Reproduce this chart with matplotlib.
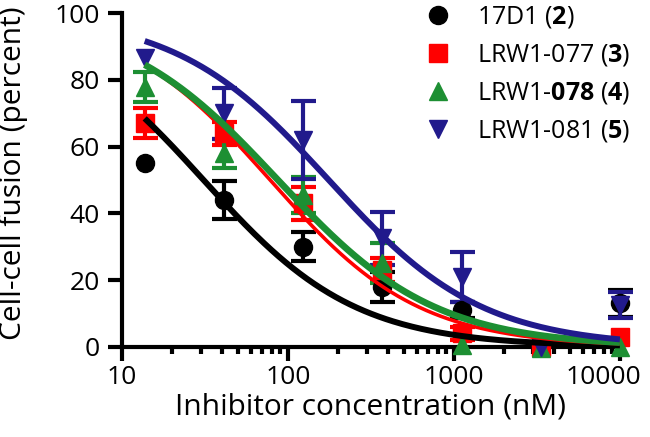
import numpy as np
import matplotlib.pyplot as plt
import matplotlib.transforms as mtransforms
from matplotlib.lines import Line2D

plt.rcParams['font.family'] = ['Open Sans', 'DejaVu Sans']
plt.rcParams['mathtext.fontset'] = 'custom'
plt.rcParams['mathtext.bf'] = 'Open Sans:bold'
plt.rcParams['mathtext.rm'] = 'Open Sans'

nan = np.nan

# 3-fold dilution series (nM)
conc = [13.7, 41.2, 123.5, 370.4, 1111.1, 3333.3, 10000.0]

names = [r"17D1 ($\mathbf{2}$)", r"LRW1-077 ($\mathbf{3}$)",
         r"LRW1-$\mathbf{078}$ ($\mathbf{4}$)", r"LRW1-081 ($\mathbf{5}$)"]
colors = ['#000000', '#ff0000', '#1d8f33', '#211a8c']
markers = ['o', 's', '^', 'v']

# mean fusion (percent) and error (SD); nan = no bar shown
fusion_17d1 = [55, 44, 30, 18, 11, 0, 13]
err_17d1 = [nan, 5.8, 4.3, 4.5, 2.5, nan, 4]
fusion_077 = [67, 64, 43, 23, 4, 0, 3]
err_077 = [4.5, 3.5, 5, 3.5, 2, nan, nan]
fusion_078 = [78, 58, 45.5, 25, 0.5, -0.5, 0]
err_078 = [4.5, 4.3, 5.5, 6, nan, nan, nan]
fusion_081 = [86.5, 70, 62, 32.5, 21, 0, 12.5]
err_081 = [nan, 7.7, 11.7, 8, 7.5, nan, 4]

# fitted dose-response parameters (top, IC50 nM, Hill slope)
fit_top = [100, 100, 100, 100]
fit_ic50 = [31, 78, 87, 176]
fit_hill = [0.95, 0.97, 0.92, 0.94]
fit_lw = [4.3, 2.6, 4.8, 4.3]

means = [fusion_17d1, fusion_077, fusion_078, fusion_081]
errs = [err_17d1, err_077, err_078, err_081]

fig = plt.figure(figsize=(6.5, 4.37), dpi=100)
ax = fig.add_axes([0.1877, 0.2066, 0.766, 0.763])

for i in range(4):
    ax.errorbar(conc, means[i], yerr=errs[i], fmt=markers[i], color=colors[i],
                ms=13, elinewidth=3, capsize=9, capthick=3, clip_on=False, zorder=3)

xs = np.logspace(np.log10(conc[0]), np.log10(conc[-1]), 200)
for i in range(4):
    ys = fit_top[i] / (1 + (xs / fit_ic50[i]) ** fit_hill[i])
    ax.plot(xs, ys, color=colors[i], lw=fit_lw[i], zorder=4, clip_on=False,
            solid_capstyle='butt')

ax.set_xscale('log')
ax.set_xlim(10, 10000)
ax.set_ylim(0, 100)
ax.set_xticks([10, 100, 1000, 10000])
ax.set_xticklabels(['10', '100', '1000', '10000'])
ax.set_yticks([0, 20, 40, 60, 80, 100])

for s in ['top', 'right']:
    ax.spines[s].set_visible(False)
for s in ['left', 'bottom']:
    ax.spines[s].set_linewidth(3)
ax.tick_params(axis='both', which='major', length=10, width=3, labelsize=19)
ax.tick_params(axis='y', pad=6)
ax.tick_params(axis='x', pad=3)
ax.tick_params(axis='x', which='minor', length=5, width=3)

# last x label sits a little inward, as in the original
last = ax.get_xticklabels()[-1]
last.set_transform(last.get_transform() +
                   mtransforms.ScaledTranslation(-12 / 72, 0, fig.dpi_scale_trans))

ax.set_xlabel('Inhibitor concentration (nM)', fontsize=21.5)
ax.set_ylabel('Cell-cell fusion (percent)', fontsize=21.5)
ax.xaxis.set_label_coords(0.5, -0.136)
ax.yaxis.set_label_coords(-0.189, 0.52)

handles = [Line2D([], [], ls='none', marker=markers[i], color=colors[i], ms=13)
           for i in range(4)]
fig.legend(handles, names, loc='upper left', bbox_to_anchor=(0.6546, 0.99),
           frameon=False, fontsize=18, handlelength=1.0, handletextpad=1.06,
           labelspacing=0.48, borderpad=0, borderaxespad=0)

fig.savefig('out.png', dpi=100)
